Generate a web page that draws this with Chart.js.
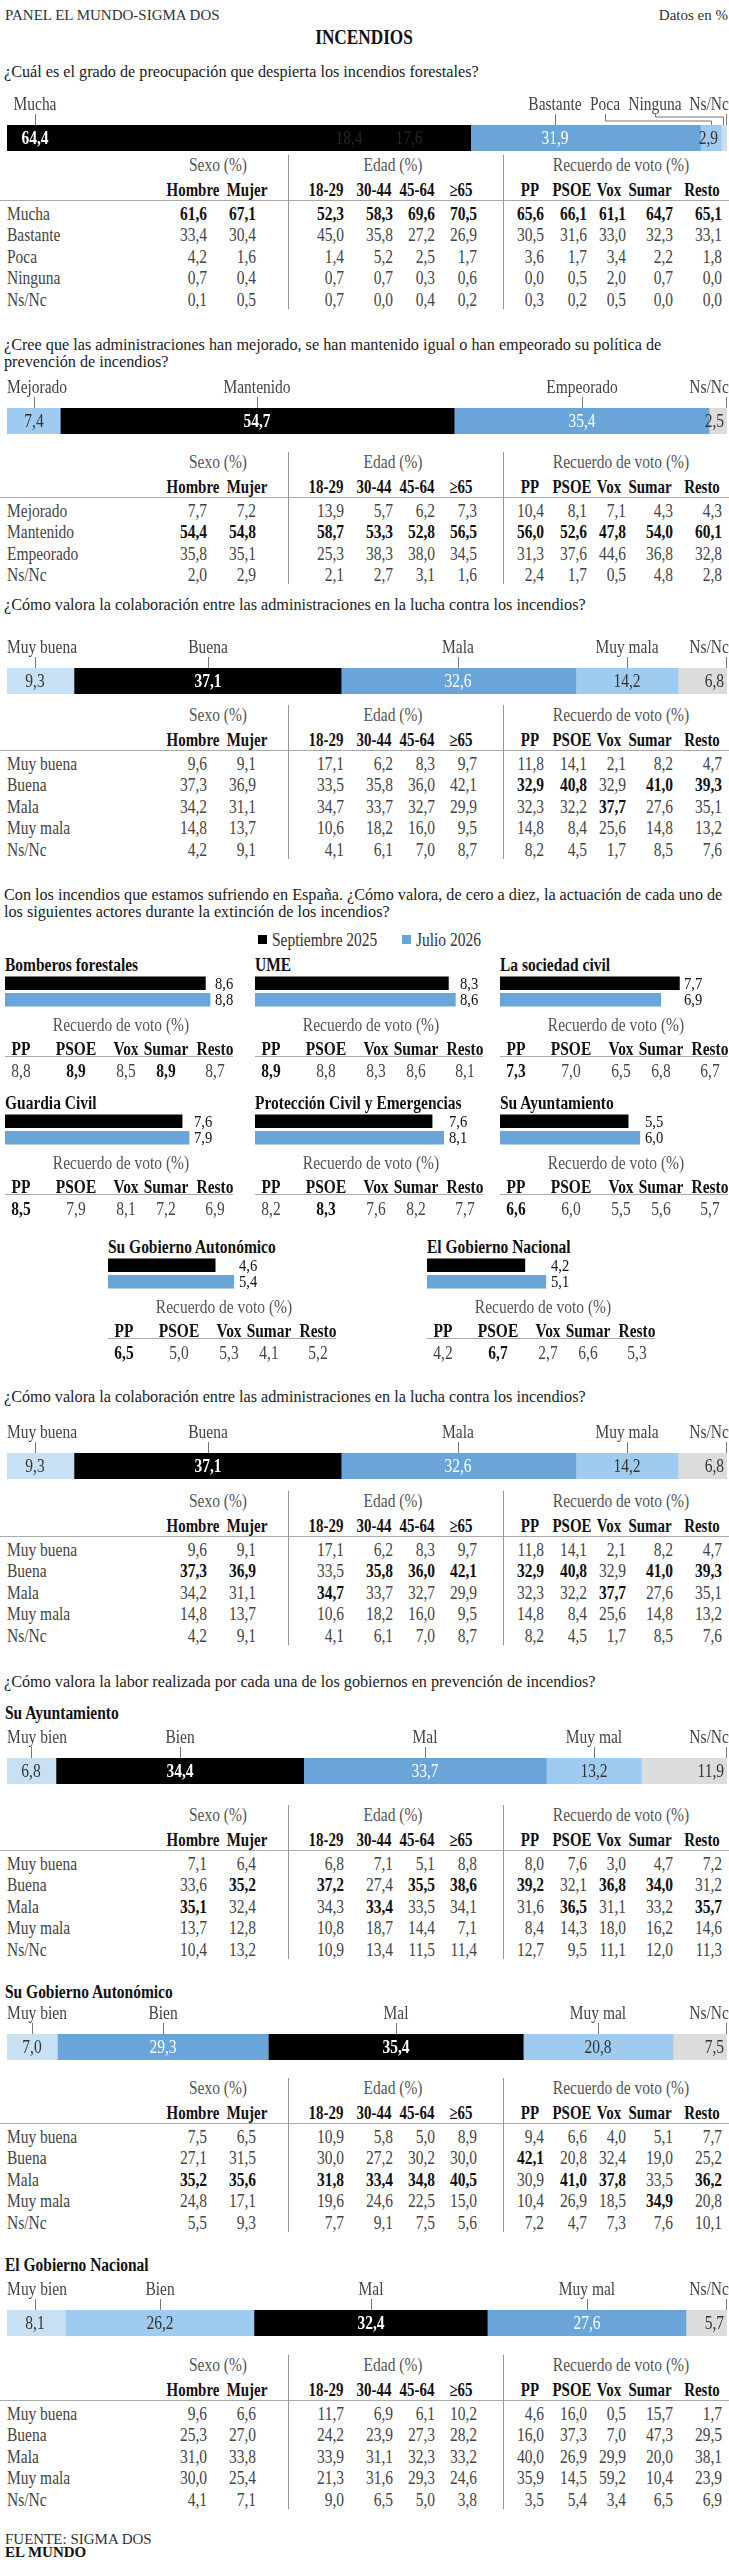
<!DOCTYPE html>
<html lang="es">
<head>
<meta charset="utf-8">
<title>Incendios</title>
<script src="https://cdn.jsdelivr.net/npm/chart.js@4.4.1/dist/chart.umd.min.js"></script>
<style>
  body { margin: 0; background: #fff; }
  #page { position: relative; width: 729px; height: 2560px; overflow: hidden; font-family: "Liberation Serif", serif; color: #3a3a3a; }
  .t { position: absolute; white-space: nowrap; line-height: 1; }
  #page canvas { position: absolute; }
  .hl { position: absolute; height: 1px; background: #aaa; }
  .vl { position: absolute; width: 1px; background: #999; }
  .sq { position: absolute; width: 9px; height: 9px; }
</style>
</head>
<body>
<div id="page"></div>
<script>
"use strict";

// ---- datos ----
var sexoCols = ['Hombre', 'Mujer'];
var edadCols = ['18-29', '30-44', '45-64', '≥65'];
var votoCols = ['PP', 'PSOE', 'Vox', 'Sumar', 'Resto'];

// grado de preocupación
var q1Cats = ['Mucha', 'Bastante', 'Poca', 'Ninguna', 'Ns/Nc'];
var q1Total = [64.4, 31.9, 2.9, 0.5, 0.3];
var q1Rows = [
  [61.6, 67.1, 52.3, 58.3, 69.6, 70.5, 65.6, 66.1, 61.1, 64.7, 65.1],
  [33.4, 30.4, 45.0, 35.8, 27.2, 26.9, 30.5, 31.6, 33.0, 32.3, 33.1],
  [4.2, 1.6, 1.4, 5.2, 2.5, 1.7, 3.6, 1.7, 3.4, 2.2, 1.8],
  [0.7, 0.4, 0.7, 0.7, 0.3, 0.6, 0.0, 0.5, 2.0, 0.7, 0.0],
  [0.1, 0.5, 0.7, 0.0, 0.4, 0.2, 0.3, 0.2, 0.5, 0.0, 0.0]
];
var q1Ghost = ['18,4', '17,6'];

// política de prevención
var q2Cats = ['Mejorado', 'Mantenido', 'Empeorado', 'Ns/Nc'];
var q2Total = [7.4, 54.7, 35.4, 2.5];
var q2Rows = [
  [7.7, 7.2, 13.9, 5.7, 6.2, 7.3, 10.4, 8.1, 7.1, 4.3, 4.3],
  [54.4, 54.8, 58.7, 53.3, 52.8, 56.5, 56.0, 52.6, 47.8, 54.0, 60.1],
  [35.8, 35.1, 25.3, 38.3, 38.0, 34.5, 31.3, 37.6, 44.6, 36.8, 32.8],
  [2.0, 2.9, 2.1, 2.7, 3.1, 1.6, 2.4, 1.7, 0.5, 4.8, 2.8]
];

// colaboración entre administraciones
var q3Cats = ['Muy buena', 'Buena', 'Mala', 'Muy mala', 'Ns/Nc'];
var q3Total = [9.3, 37.1, 32.6, 14.2, 6.8];
var q3Rows = [
  [9.6, 9.1, 17.1, 6.2, 8.3, 9.7, 11.8, 14.1, 2.1, 8.2, 4.7],
  [37.3, 36.9, 33.5, 35.8, 36.0, 42.1, 32.9, 40.8, 32.9, 41.0, 39.3],
  [34.2, 31.1, 34.7, 33.7, 32.7, 29.9, 32.3, 32.2, 37.7, 27.6, 35.1],
  [14.8, 13.7, 10.6, 18.2, 16.0, 9.5, 14.8, 8.4, 25.6, 14.8, 13.2],
  [4.2, 9.1, 4.1, 6.1, 7.0, 8.7, 8.2, 4.5, 1.7, 8.5, 7.6]
];

// nota de cero a diez
var seriesNames = ['Septiembre 2025', 'Julio 2026'];
var actors = ['Bomberos forestales', 'UME', 'La sociedad civil', 'Guardia Civil',
  'Protección Civil y Emergencias', 'Su Ayuntamiento', 'Su Gobierno Autonómico', 'El Gobierno Nacional'];
var sept2025 = [8.6, 8.3, 7.7, 7.6, 7.6, 5.5, 4.6, 4.2];
var jul2026 = [8.8, 8.6, 6.9, 7.9, 8.1, 6.0, 5.4, 5.1];
var actorVoto = [
  [8.8, 8.9, 8.5, 8.9, 8.7],
  [8.9, 8.8, 8.3, 8.6, 8.1],
  [7.3, 7.0, 6.5, 6.8, 6.7],
  [8.5, 7.9, 8.1, 7.2, 6.9],
  [8.2, 8.3, 7.6, 8.2, 7.7],
  [6.6, 6.0, 5.5, 5.6, 5.7],
  [6.5, 5.0, 5.3, 4.1, 5.2],
  [4.2, 6.7, 2.7, 6.6, 5.3]
];

// labor de cada gobierno
var govCats = ['Muy bien', 'Bien', 'Mal', 'Muy mal', 'Ns/Nc'];
var govRowCats = ['Muy buena', 'Buena', 'Mala', 'Muy mala', 'Ns/Nc'];
var aytoTotal = [6.8, 34.4, 33.7, 13.2, 11.9];
var aytoRows = [
  [7.1, 6.4, 6.8, 7.1, 5.1, 8.8, 8.0, 7.6, 3.0, 4.7, 7.2],
  [33.6, 35.2, 37.2, 27.4, 35.5, 38.6, 39.2, 32.1, 36.8, 34.0, 31.2],
  [35.1, 32.4, 34.3, 33.4, 33.5, 34.1, 31.6, 36.5, 31.1, 33.2, 35.7],
  [13.7, 12.8, 10.8, 18.7, 14.4, 7.1, 8.4, 14.3, 18.0, 16.2, 14.6],
  [10.4, 13.2, 10.9, 13.4, 11.5, 11.4, 12.7, 9.5, 11.1, 12.0, 11.3]
];
var autoTotal = [7.0, 29.3, 35.4, 20.8, 7.5];
var autoRows = [
  [7.5, 6.5, 10.9, 5.8, 5.0, 8.9, 9.4, 6.6, 4.0, 5.1, 7.7],
  [27.1, 31.5, 30.0, 27.2, 30.2, 30.0, 42.1, 20.8, 32.4, 19.0, 25.2],
  [35.2, 35.6, 31.8, 33.4, 34.8, 40.5, 30.9, 41.0, 37.8, 33.5, 36.2],
  [24.8, 17.1, 19.6, 24.6, 22.5, 15.0, 10.4, 26.9, 18.5, 34.9, 20.8],
  [5.5, 9.3, 7.7, 9.1, 7.5, 5.6, 7.2, 4.7, 7.3, 7.6, 10.1]
];
var nacTotal = [8.1, 26.2, 32.4, 27.6, 5.7];
var nacRows = [
  [9.6, 6.6, 11.7, 6.9, 6.1, 10.2, 4.6, 16.0, 0.5, 15.7, 1.7],
  [25.3, 27.0, 24.2, 23.9, 27.3, 28.2, 16.0, 37.3, 7.0, 47.3, 29.5],
  [31.0, 33.8, 33.9, 31.1, 32.3, 33.2, 40.0, 26.9, 29.9, 20.0, 38.1],
  [30.0, 25.4, 21.3, 31.6, 29.3, 24.6, 35.9, 14.5, 59.2, 10.4, 23.9],
  [4.1, 7.1, 9.0, 6.5, 5.0, 3.8, 3.5, 5.4, 3.4, 6.5, 6.9]
];

// ---- estilo ----
var BLACK = '#000000', BLUE = '#6aa5d9', LIGHT = '#9ecbef', PALE = '#c8e0f3', GREY = '#dcdcdc';
var RANK_COLORS = [BLACK, BLUE, LIGHT, PALE];
var HEAD_C = [193, 247, 326, 374, 417, 461, 530, 572, 609, 650, 702];
var VAL_R = [207, 256, 344, 393, 435, 477, 544, 587, 626, 673, 722];
var PANEL_C = [16, 71, 121, 161, 210];
var FS = 18, SX = 0.86;   // condensed body text

var page = document.getElementById('page');
var mctx = document.createElement('canvas').getContext('2d');

function fmt(v) { return v.toFixed(1).replace('.', ','); }

function textW(s, bold) {
  mctx.font = (bold ? 'bold ' : '') + FS + 'px "Liberation Serif"';
  return mctx.measureText(s).width * SX;
}

function txt(x, y, s, o) {
  o = o || {};
  var size = o.size || FS, sx = o.sx || SX;
  var d = document.createElement('div');
  d.className = 't';
  d.textContent = s;
  d.style.left = x + 'px';
  d.style.top = y + 'px';
  d.style.fontSize = size + 'px';
  if (o.lh) d.style.lineHeight = o.lh;
  var tx = o.align === 'center' ? '-50%' : (o.align === 'right' ? '-100%' : '0');
  var ox = o.align === 'center' ? '50%' : (o.align === 'right' ? '100%' : '0');
  d.style.transformOrigin = ox + ' 50%';
  d.style.transform = 'translate(' + tx + ',-50%) scaleX(' + sx + ')';
  if (o.bold) d.style.fontWeight = 'bold';
  if (o.color) d.style.color = o.color;
  page.appendChild(d);
  return d;
}

function hline(x, y, w) {
  var d = document.createElement('div');
  d.className = 'hl';
  d.style.left = x + 'px'; d.style.top = y + 'px'; d.style.width = w + 'px';
  page.appendChild(d);
}

function vline(x, y, h) {
  var d = document.createElement('div');
  d.className = 'vl';
  d.style.left = x + 'px'; d.style.top = y + 'px'; d.style.height = h + 'px';
  page.appendChild(d);
}

function addCanvas(x, y, w, h) {
  var cv = document.createElement('canvas');
  cv.width = w; cv.height = h;
  cv.style.left = x + 'px'; cv.style.top = y + 'px';
  cv.style.width = w + 'px'; cv.style.height = h + 'px';
  page.appendChild(cv);
  return cv;
}

function rankColors(cats, vals) {
  var idx = [];
  cats.forEach(function (c, i) { if (c !== 'Ns/Nc') idx.push(i); });
  idx.sort(function (a, b) { return vals[b] - vals[a]; });
  var out = cats.map(function () { return GREY; });
  idx.forEach(function (i, r) { out[i] = RANK_COLORS[Math.min(r, 3)]; });
  return out;
}

// draws the leader lines stored on the chart
var leaderPlugin = {
  id: 'leaders',
  afterDraw: function (chart) {
    if (!chart.$lines) return;
    var ctx = chart.ctx;
    ctx.save();
    ctx.strokeStyle = '#777';
    ctx.lineWidth = 1;
    chart.$lines.forEach(function (pts) {
      ctx.beginPath();
      pts.forEach(function (p, k) {
        var px = Math.round(p[0]) + 0.5;
        if (k === 0) ctx.moveTo(px, p[1]); else ctx.lineTo(px, p[1]);
      });
      ctx.stroke();
    });
    ctx.restore();
  }
};

function stackedBar(top, cats, vals) {
  var fills = rankColors(cats, vals);
  var total = vals.reduce(function (a, b) { return a + b; }, 0);
  var cv = addCanvas(0, top - 12, 729, 38);
  var chart = new Chart(cv, {
    type: 'bar',
    data: {
      labels: [''],
      datasets: cats.map(function (c, i) {
        return { label: c, data: [vals[i]], backgroundColor: fills[i], borderWidth: 0,
          barPercentage: 1, categoryPercentage: 1 };
      })
    },
    options: {
      indexAxis: 'y', responsive: false, animation: false,
      layout: { padding: { left: 7, right: 2, top: 12, bottom: 0 } },
      plugins: { legend: { display: false }, tooltip: { enabled: false } },
      scales: {
        x: { stacked: true, display: false, min: 0, max: total },
        y: { stacked: true, display: false }
      }
    },
    plugins: [leaderPlugin]
  });

  var xs = chart.scales.x;
  var segs = [], cum = 0;
  vals.forEach(function (v) {
    var s = xs.getPixelForValue(cum), e = xs.getPixelForValue(cum + v);
    segs.push({ s: s, e: e, w: e - s });
    cum += v;
  });
  var n = segs.length;
  var labs = segs.map(function (g, i) {
    var w = textW(cats[i]);
    var anchor = i === 0 ? g.s + Math.min(g.w / 2, 28) : (i === n - 1 ? g.e - 1 : (g.s + g.e) / 2);
    var c = i === 0 ? Math.max(anchor, g.s + w / 2) : (i === n - 1 ? 729 - w / 2 : anchor);
    return { w: w, anchor: anchor, c: c };
  });
  for (var i = n - 2; i >= 0; i--) {
    var over = (labs[i].c + labs[i].w / 2) - (labs[i + 1].c - labs[i + 1].w / 2 - 8);
    if (over > 0) labs[i].c -= over;
  }

  var lines = [], elbow = 0;
  for (i = n - 1; i >= 0; i--) {
    var g = segs[i], L = labs[i];
    if (i > 0 && i < n - 1 && L.c > g.s + 6 && L.c < g.e - 6) L.anchor = L.c;
    if (i === 0 || i === n - 1 || Math.abs(L.c - L.anchor) < 1) {
      lines.push([[L.anchor, 1], [L.anchor, 12]]);
    } else {
      var yh = 4 + 4 * elbow;
      elbow++;
      lines.push([[L.c, 1], [L.c, yh], [L.anchor, yh], [L.anchor, 12]]);
    }
    txt(L.c, top - 21, cats[i], { align: 'center', color: '#444' });
  }
  chart.$lines = lines;
  chart.draw();

  segs.forEach(function (g, i) {
    if (g.w < 15) return;
    var f = fills[i];
    var o = { color: (f === BLACK || f === BLUE) ? '#fff' : '#333', bold: f === BLACK };
    if (i === n - 1 || g.w < 40) {
      o.align = 'right';
      txt(g.e - 3, top + 13, fmt(vals[i]), o);
    } else {
      o.align = 'center';
      txt(labs[i].anchor, top + 13, fmt(vals[i]), o);
    }
  });
  return chart;
}

function crossTable(y, rowCats, rows, boldGroups) {
  var lastY = y + 49 + (rows.length - 1) * 21.4;
  txt(218, y, 'Sexo (%)', { align: 'center', color: '#555' });
  txt(393, y, 'Edad (%)', { align: 'center', color: '#555' });
  txt(621, y, 'Recuerdo de voto (%)', { align: 'center', color: '#555' });
  sexoCols.concat(edadCols, votoCols).forEach(function (c, j) {
    txt(HEAD_C[j], y + 25, c, { align: 'center', bold: true, color: '#111', sx: 0.83 });
  });
  hline(0, y + 35, 729);
  vline(288, y - 10, lastY - y + 19);
  vline(503, y - 10, lastY - y + 19);
  rows.forEach(function (r, i) {
    var ry = y + 49 + i * 21.4;
    txt(7, ry, rowCats[i], { color: '#444' });
    r.forEach(function (v, j) {
      var gi = j < 2 ? 0 : (j < 6 ? 1 : 2);
      var colMax = Math.max.apply(null, rows.map(function (rr) { return rr[j]; }));
      var bold = boldGroups[gi] && v === colMax;
      txt(VAL_R[j], ry, fmt(v), { align: 'right', bold: bold, color: bold ? '#111' : '#444' });
    });
  });
}

function actorPanel(x, t, k) {
  txt(x, t, actors[k], { bold: true, color: '#111' });
  var cv = addCanvas(x, t + 10, 233, 33);
  var ch = new Chart(cv, {
    type: 'bar',
    data: {
      labels: seriesNames,
      datasets: [{ data: [sept2025[k], jul2026[k]], backgroundColor: [BLACK, BLUE], borderWidth: 0, barThickness: 13 }]
    },
    options: {
      indexAxis: 'y', responsive: false, animation: false,
      layout: { padding: 0 },
      plugins: { legend: { display: false }, tooltip: { enabled: false } },
      scales: { x: { display: false, min: 0, max: 10 }, y: { display: false } }
    }
  });
  var bars = ch.getDatasetMeta(0).data;
  var lx = x + ch.scales.x.getPixelForValue(Math.max(sept2025[k], jul2026[k])) + 5;
  txt(lx, t + 10 + bars[0].y + 1, fmt(sept2025[k]), { color: '#111', size: 17, lh: 0.85 });
  txt(lx, t + 10 + bars[1].y, fmt(jul2026[k]), { color: '#111', size: 17, lh: 0.85 });

  txt(x + 116, t + 60, 'Recuerdo de voto (%)', { align: 'center', color: '#555' });
  var best = Math.max.apply(null, actorVoto[k]);
  votoCols.forEach(function (c, j) {
    txt(x + PANEL_C[j], t + 84, c, { align: 'center', bold: true, color: '#111' });
    var v = actorVoto[k][j];
    txt(x + PANEL_C[j], t + 106, fmt(v), { align: 'center', bold: v === best, color: v === best ? '#111' : '#444' });
  });
  hline(x, t + 91, 228);
}

function question(y, lines) {
  lines.forEach(function (s, i) { txt(4, y + i * 17, s, { color: '#222', size: 16.2, sx: 1 }); });
}

// ---- cabecera ----
txt(5, 15, 'PANEL EL MUNDO-SIGMA DOS', { size: 15, sx: 1, color: '#333' });
txt(728, 15, 'Datos en %', { align: 'right', size: 15, sx: 1, color: '#333' });
txt(364, 37, 'INCENDIOS', { align: 'center', bold: true, size: 21, sx: 0.82, color: '#111' });

// 1
question(72, ['¿Cuál es el grado de preocupación que despierta los incendios forestales?']);
stackedBar(125, q1Cats, q1Total);
txt(349, 138, q1Ghost[0], { align: 'center', color: '#262626' });
txt(409, 138, q1Ghost[1], { align: 'center', color: '#262626' });
crossTable(165, q1Cats, q1Rows, [true, true, true]);

// 2
question(345, ['¿Cree que las administraciones han mejorado, se han mantenido igual o han empeorado su política de',
  'prevención de incendios?']);
stackedBar(408, q2Cats, q2Total);
crossTable(462, q2Cats, q2Rows, [true, true, true]);

// 3
question(605, ['¿Cómo valora la colaboración entre las administraciones en la lucha contra los incendios?']);
stackedBar(668, q3Cats, q3Total);
crossTable(715, q3Cats, q3Rows, [false, false, true]);

// 4
question(895, ['Con los incendios que estamos sufriendo en España. ¿Cómo valora, de cero a diez, la actuación de cada uno de',
  'los siguientes actores durante la extinción de los incendios?']);
[[258, BLACK], [402, BLUE]].forEach(function (p, i) {
  var sq = document.createElement('div');
  sq.className = 'sq';
  sq.style.left = p[0] + 'px'; sq.style.top = '935px'; sq.style.background = p[1];
  page.appendChild(sq);
  txt(p[0] + 14, 940, seriesNames[i], { color: '#333' });
});
actorPanel(5, 965, 0);
actorPanel(255, 965, 1);
actorPanel(500, 965, 2);
actorPanel(5, 1103, 3);
actorPanel(255, 1103, 4);
actorPanel(500, 1103, 5);
actorPanel(108, 1247, 6);
actorPanel(427, 1247, 7);

// 5
question(1397, ['¿Cómo valora la colaboración entre las administraciones en la lucha contra los incendios?']);
stackedBar(1453, q3Cats, q3Total);
crossTable(1501, q3Cats, q3Rows, [true, true, true]);

// 6
question(1682, ['¿Cómo valora la labor realizada por cada una de los gobiernos en prevención de incendios?']);
txt(5, 1713, 'Su Ayuntamiento', { bold: true, color: '#111' });
stackedBar(1758, govCats, aytoTotal);
crossTable(1815, govRowCats, aytoRows, [true, true, true]);

txt(5, 1992, 'Su Gobierno Autonómico', { bold: true, color: '#111' });
stackedBar(2034, govCats, autoTotal);
crossTable(2088, govRowCats, autoRows, [true, true, true]);

txt(5, 2265, 'El Gobierno Nacional', { bold: true, color: '#111' });
stackedBar(2310, govCats, nacTotal);
crossTable(2365, govRowCats, nacRows, [false, false, false]);

txt(5, 2539, 'FUENTE: SIGMA DOS', { size: 15, sx: 1, color: '#333' });
txt(5, 2552, 'EL MUNDO', { size: 15, sx: 1, bold: true, color: '#111' });
</script>
</body>
</html>
